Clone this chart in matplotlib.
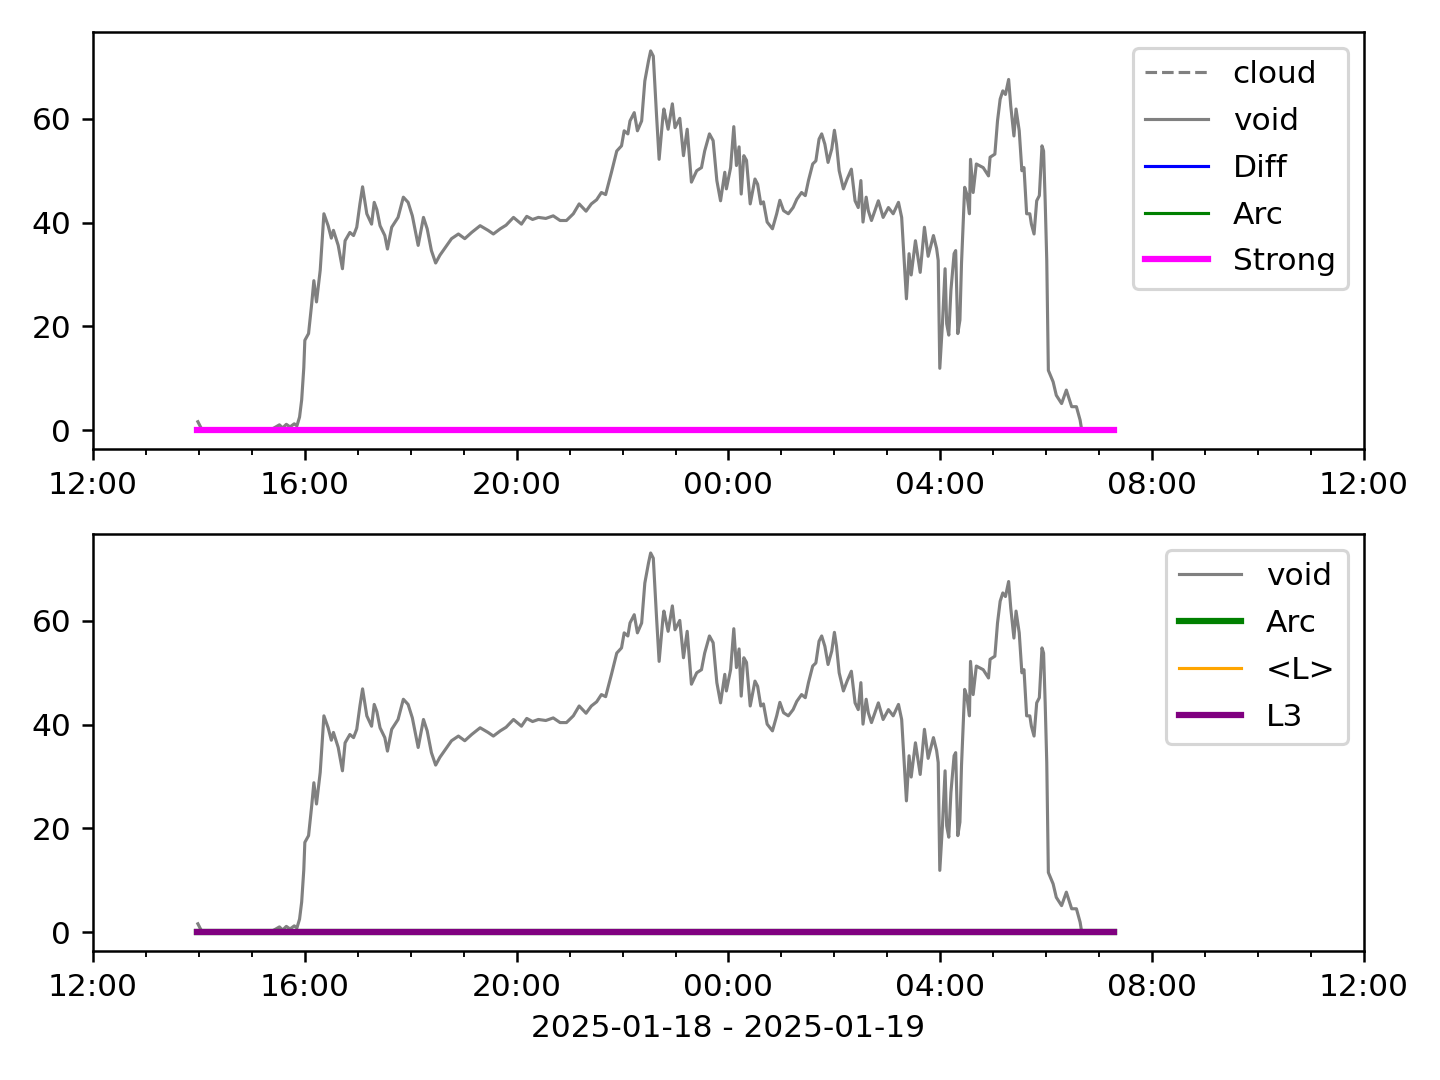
import numpy as np
import pandas as pd
import matplotlib
matplotlib.use("Agg")
import matplotlib.pyplot as plt
import matplotlib.dates as mdates

# hours after 2025-01-18 12:00
void_hours = [1.98, 2.05, 2.10, 3.35, 3.45, 3.52, 3.58, 3.65, 3.72, 3.80, 3.85, 3.90, 3.94, 3.98,
              4.00, 4.07, 4.13, 4.17, 4.22, 4.29, 4.36, 4.44, 4.50, 4.54, 4.63, 4.71, 4.76, 4.85,
              4.92, 4.98, 5.04, 5.09, 5.17, 5.26, 5.31, 5.36, 5.42, 5.51, 5.56, 5.64, 5.76, 5.86,
              5.95, 6.03, 6.14, 6.24, 6.31, 6.39, 6.47, 6.55, 6.68, 6.77, 6.90, 7.02, 7.15, 7.31,
              7.46, 7.56, 7.69, 7.80, 7.94, 8.09, 8.19, 8.30, 8.41, 8.55, 8.69, 8.82, 8.94, 9.07,
              9.18, 9.31, 9.41, 9.51, 9.60, 9.68, 9.79, 9.89, 9.98, 10.03, 10.10, 10.14, 10.22,
              10.28, 10.36, 10.42, 10.49, 10.53, 10.58, 10.64, 10.69, 10.76, 10.78, 10.86, 10.94,
              10.99, 11.08, 11.15, 11.22, 11.30, 11.40, 11.49, 11.55, 11.64, 11.71, 11.78, 11.85,
              11.93, 11.96, 12.04, 12.10, 12.15, 12.20, 12.24, 12.29, 12.34, 12.41, 12.50, 12.55,
              12.61, 12.66, 12.73, 12.83, 12.91, 12.97, 13.04, 13.13, 13.22, 13.29, 13.38, 13.45,
              13.51, 13.59, 13.65, 13.71, 13.76, 13.82, 13.88, 13.95, 14.00, 14.04, 14.09, 14.17,
              14.24, 14.32, 14.39, 14.45, 14.50, 14.54, 14.60, 14.64, 14.70, 14.83, 14.92, 15.02,
              15.11, 15.21, 15.27, 15.31, 15.36, 15.41, 15.45, 15.53, 15.62, 15.70, 15.77, 15.87,
              15.93, 15.96, 15.99, 16.04, 16.09, 16.12, 16.16, 16.20, 16.26, 16.29, 16.33, 16.37,
              16.40, 16.46, 16.50, 16.55, 16.57, 16.62, 16.68, 16.81, 16.91, 16.94, 17.03, 17.08,
              17.13, 17.18, 17.23, 17.29, 17.33, 17.39, 17.43, 17.49, 17.54, 17.58, 17.63, 17.69,
              17.72, 17.77, 17.82, 17.87, 17.92, 17.95, 17.98, 18.01, 18.04, 18.13, 18.19, 18.29,
              18.38, 18.48, 18.57, 18.64, 18.67]
void_vals = [1.6, 0.2, 0.0, 0.0, 0.6, 1.0, 0.4, 1.1, 0.6, 1.2, 0.8, 2.5, 5.8, 12.0,
             17.3, 18.6, 24.4, 28.8, 24.7, 30.8, 41.7, 39.4, 37.0, 38.5, 35.6, 31.1, 36.5, 38.1,
             37.5, 39.1, 43.6, 46.9, 41.7, 39.7, 43.9, 42.5, 39.4, 37.5, 34.9, 39.1, 41.0, 44.9,
             43.9, 41.3, 35.6, 41.0, 38.8, 34.6, 32.2, 33.7, 35.6, 36.9, 37.8, 36.9, 38.1, 39.4,
             38.5, 37.8, 38.8, 39.5, 41.0, 39.7, 41.2, 40.6, 41.0, 40.8, 41.3, 40.4, 40.4, 41.7,
             43.6, 42.2, 43.6, 44.4, 45.8, 45.4, 49.7, 53.8, 54.8, 57.7, 57.1, 59.6, 61.2,
             57.7, 59.6, 67.3, 71.2, 73.1, 72.1, 60.9, 52.2, 60.3, 61.9, 58.0, 62.9,
             58.3, 60.1, 52.9, 58.0, 47.8, 50.0, 50.6, 53.8, 57.1, 55.8, 48.1, 44.2,
             49.7, 46.5, 50.6, 58.5, 51.0, 54.6, 45.5, 52.9, 52.0, 43.6, 48.4, 47.4,
             43.6, 44.0, 40.1, 38.8, 41.7, 44.3, 42.3, 41.7, 42.9, 44.5, 45.8, 45.2,
             48.1, 51.3, 51.9, 56.1, 57.1, 55.1, 51.6, 54.2, 57.8, 55.1, 50.0, 46.5,
             48.4, 50.3, 44.2, 42.9, 48.1, 40.1, 44.9, 42.3, 40.4, 44.2, 41.0, 42.9,
             41.7, 43.9, 41.0, 34.0, 25.3, 34.0, 29.9, 36.5, 30.4, 39.1, 33.5, 37.5,
             35.0, 32.7, 11.9, 20.5, 31.1, 20.5, 18.3, 26.9, 34.0, 34.6, 18.6, 21.2,
             32.1, 46.8, 45.5, 41.7, 52.2, 45.8, 51.3, 50.6, 49.0, 52.6, 53.2, 59.6,
             63.8, 65.4, 64.7, 67.6, 62.5, 56.7, 61.9, 57.7, 50.0, 50.6, 41.7, 41.7,
             39.7, 37.8, 44.2, 45.2, 54.8, 53.8, 44.2, 32.7, 11.5, 9.3, 6.7, 5.1,
             7.7, 4.5, 4.5, 1.9, 0.0]

zero_hours = [1.97, 19.28]
strong_vals = [0.0, 0.0]
diff_vals = [0.0, 0.0]
arc_vals = [0.0, 0.0]
meanl_vals = [0.0, 0.0]
l3_vals = [0.0, 0.0]

base = pd.Timestamp("2025-01-18 12:00")
void_t = base + pd.to_timedelta(void_hours, unit="h")
zero_t = base + pd.to_timedelta(zero_hours, unit="h")
xmin = base
xmax = base + pd.Timedelta(hours=24)

fig, (ax1, ax2) = plt.subplots(2, 1, figsize=(6.4, 4.8), dpi=225)
fig.subplots_adjust(left=0.0646, right=0.9472, top=0.9704, bottom=0.1194, hspace=0.204)

# top panel
ax1.plot([], [], color="grey", ls="--", lw=1, label="cloud")
ax1.plot(void_t, void_vals, color="grey", lw=1, label="void")
ax1.plot(zero_t, diff_vals, color="blue", lw=1, label="Diff")
ax1.plot(zero_t, arc_vals, color="green", lw=1, label="Arc")
ax1.plot(zero_t, strong_vals, color="magenta", lw=2, label="Strong")
ax1.legend(loc="upper right", labelspacing=0.57)

# bottom panel
ax2.plot(void_t, void_vals, color="grey", lw=1, label="void")
ax2.plot(zero_t, arc_vals, color="green", lw=2, label="Arc")
ax2.plot(zero_t, meanl_vals, color="orange", lw=1, label="<L>")
ax2.plot(zero_t, l3_vals, color="purple", lw=2, label="L3")
ax2.legend(loc="upper right", labelspacing=0.57)
ax2.set_xlabel("2025-01-18 - 2025-01-19")

for ax in (ax1, ax2):
    ax.set_xlim(xmin, xmax)
    ax.xaxis.set_major_locator(mdates.HourLocator(byhour=range(0, 24, 4)))
    ax.xaxis.set_minor_locator(mdates.HourLocator())
    ax.xaxis.set_major_formatter(mdates.DateFormatter("%H:%M"))
    ax.set_yticks([0, 20, 40, 60])

fig.savefig("out.png", dpi=225)
